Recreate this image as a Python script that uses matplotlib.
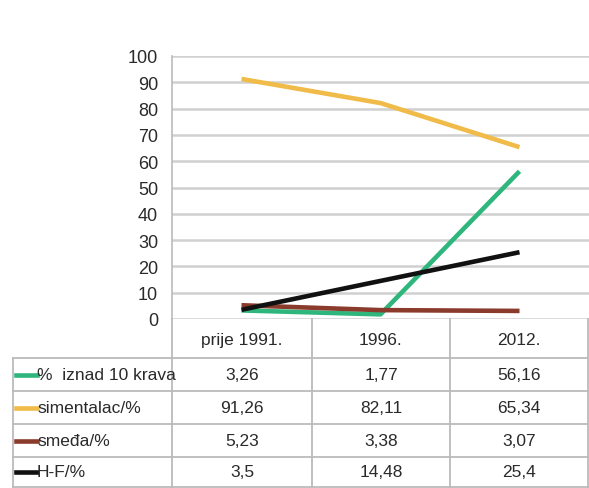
import matplotlib
matplotlib.use("Agg")
import matplotlib.pyplot as plt
from matplotlib.lines import Line2D

plt.rcParams['font.family'] = ['Liberation Sans Narrow', 'Liberation Sans', 'DejaVu Sans']

categories = ["prije 1991.", "1996.", "2012."]
series_names = ["%  iznad 10 krava", "simentalac/%", "smeđa/%", "H-F/%"]
iznad_10_krava = [3.26, 1.77, 56.16]
simentalac = [91.26, 82.11, 65.34]
smeda = [5.23, 3.38, 3.07]
hf = [3.5, 14.48, 25.4]
series_values = [iznad_10_krava, simentalac, smeda, hf]
series_colors = ["#2fb67c", "#f0bb48", "#8a3b2c", "#111111"]
y_ticks = [0, 10, 20, 30, 40, 50, 60, 70, 80, 90, 100]

W, H = 589, 489
fig = plt.figure(figsize=(W / 100, H / 100), dpi=100)

def fx(px):
    return px / W

def fy(py):
    return 1 - py / H

# plot area
left, right, top, bottom = 172, 589, 57, 320
ax = fig.add_axes([fx(left), fy(bottom), fx(right - left), fy(top) - fy(bottom)])
x = list(range(len(categories)))
for vals, col in zip(series_values, series_colors):
    ax.plot(x, vals, color=col, lw=3.3, solid_capstyle='butt', zorder=3)

ax.set_xlim(-0.5, len(categories) - 0.5)
ax.set_ylim(0, 100)
ax.set_yticks(y_ticks)
ax.set_yticklabels([str(t) for t in y_ticks], fontsize=13, color="#2a2a2a")
ax.tick_params(axis='y', length=0, pad=10)
ax.set_xticks([])
ax.grid(axis='y', color="#d0d0d0", lw=1.8)
ax.set_axisbelow(True)
for s in ['top', 'right', 'bottom']:
    ax.spines[s].set_visible(False)
ax.spines['left'].set_color("#bbbbbb")
ax.spines['left'].set_linewidth(1.2)

# data table below the plot
grid_col = "#bbbbbb"
table_left = 13
col_edges = [172, 312, 450, 588]
header_top, header_bottom = 320, 359
row_h = 33
row_edges = [header_bottom + i * row_h for i in range(len(series_names) + 1)]
row_edges[-1] = min(row_edges[-1], 488)

def hline(x0, x1, y, lw=1.3):
    fig.add_artist(Line2D([fx(x0), fx(x1)], [fy(y), fy(y)], color=grid_col, lw=lw))

def vline(x, y0, y1, lw=1.3):
    fig.add_artist(Line2D([fx(x), fx(x)], [fy(y0), fy(y1)], color=grid_col, lw=lw))

for y in row_edges:
    hline(table_left, col_edges[-1], y)
vline(table_left, header_bottom, row_edges[-1])
for xe in col_edges:
    vline(xe, header_top, row_edges[-1])

text_col = "#2a2a2a"
fs = 12.5
for i, cat in enumerate(categories):
    cx = (col_edges[i] + col_edges[i + 1]) / 2
    fig.text(fx(cx), fy((header_top + header_bottom) / 2 + 1), cat,
             ha='center', va='center', fontsize=fs, color=text_col)

for r, (name, vals, col) in enumerate(zip(series_names, series_values, series_colors)):
    cy = (row_edges[r] + row_edges[r + 1]) / 2
    fig.add_artist(Line2D([fx(16), fx(37)], [fy(cy), fy(cy)], color=col, lw=3.3))
    fig.text(fx(37), fy(cy), name, ha='left', va='center', fontsize=fs, color=text_col)
    for i, v in enumerate(vals):
        cx = (col_edges[i] + col_edges[i + 1]) / 2
        label = ("%g" % v).replace('.', ',')
        fig.text(fx(cx), fy(cy), label, ha='center', va='center', fontsize=fs, color=text_col)

fig.savefig("out.png", dpi=100, facecolor="white")
